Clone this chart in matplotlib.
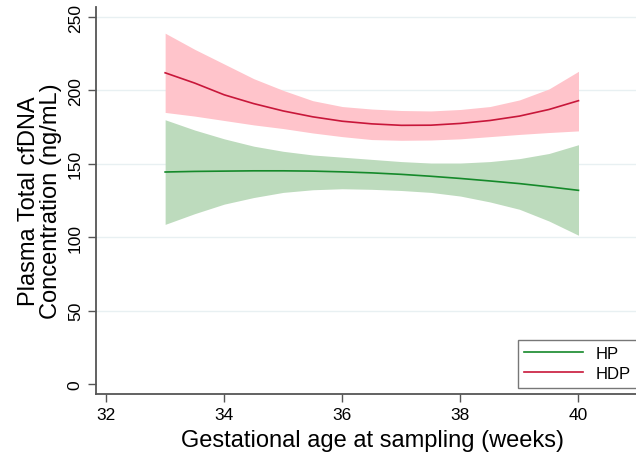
import matplotlib.pyplot as plt

plt.rcParams['font.family'] = ['Liberation Sans', 'DejaVu Sans']

weeks = [33, 33.5, 34, 34.5, 35, 35.5, 36, 36.5, 37, 37.5, 38, 38.5, 39, 39.5, 40]

# HP (green)
hp_fit = [144.4, 144.8, 145, 145.2, 145.2, 145, 144.5, 143.8, 142.8, 141.5, 140, 138.3, 136.5, 134.3, 131.9]
hp_hi = [180, 173, 167, 162, 158.5, 156, 154.5, 153, 151.5, 150.5, 150.5, 151.5, 153.5, 157, 163]
hp_lo = [108.7, 116, 122.5, 127, 130.5, 132.3, 133, 132.6, 131.8, 130.5, 128, 124, 119, 111, 101.3]

# HDP (red)
hdp_fit = [212, 205, 197, 191, 186, 182, 179, 177.2, 176.2, 176.3, 177.5, 179.5, 182.5, 187, 193]
hdp_hi = [239, 228, 218, 208, 200, 193, 189, 187.3, 186.3, 186, 187, 189, 193.5, 201, 213]
hdp_lo = [185, 182.5, 179.5, 176.5, 174, 171, 168.5, 166.5, 166, 166.2, 167, 168.5, 170, 171.3, 172.4]

xticks = [32, 34, 36, 38, 40]
yticks = [0, 50, 100, 150, 200, 250]

fig = plt.figure(figsize=(6.36, 4.56), dpi=100)
ax = fig.add_axes([0.151, 0.134, 0.87, 0.849])

ax.fill_between(weeks, hp_lo, hp_hi, color='#bddbbd', lw=0, zorder=2)
ax.fill_between(weeks, hdp_lo, hdp_hi, color='#ffc4cb', lw=0, zorder=2)
ax.plot(weeks, hp_fit, color='#15892a', lw=1.2, label='HP', zorder=3)
ax.plot(weeks, hdp_fit, color='#c8173a', lw=1.2, label='HDP', zorder=3)

ax.set_xlim(31.83, 41.2)
ax.set_ylim(-6.8, 257)
ax.set_xticks(xticks)
ax.set_yticks(yticks)
for v in yticks[1:]:
    ax.axhline(v, color='#e8f0f2', lw=1, zorder=1)

for s in ['top', 'right']:
    ax.spines[s].set_visible(False)
for s in ['left', 'bottom']:
    ax.spines[s].set_color('#555555')
    ax.spines[s].set_linewidth(1.3)
ax.tick_params(direction='out', length=6, width=1, color='#555555', labelsize=12.5)
plt.setp(ax.get_yticklabels(), rotation=90, va='center')

ax.set_xlabel('Gestational age at sampling (weeks)', fontsize=17, labelpad=5)
ax.set_ylabel('Plasma Total cfDNA\nConcentration (ng/mL)', fontsize=17, labelpad=4, linespacing=1.0)

leg = ax.legend(loc='lower left', bbox_to_anchor=(38.97, -2.7), bbox_transform=ax.transData,
                fontsize=12, frameon=True, fancybox=False, handlelength=3.5, handletextpad=0.8,
                borderpad=0.4, labelspacing=0.3, borderaxespad=0)
leg.get_frame().set_edgecolor('#555555')
leg.get_frame().set_linewidth(1)

fig.savefig('out.png', dpi=100)
